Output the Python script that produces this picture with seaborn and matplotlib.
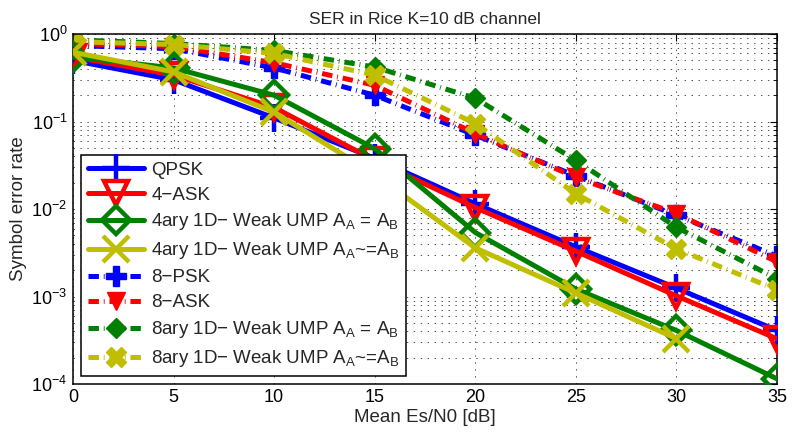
import matplotlib
matplotlib.use("Agg")
import matplotlib.pyplot as plt
import seaborn as sns
import numpy as np
import pandas as pd
from matplotlib.ticker import LogLocator, NullFormatter, FixedLocator

snr_db = [0, 5, 10, 15, 20, 25, 30, 35]

qpsk = [0.50, 0.30, 0.110, 0.038, 0.0115, 0.0037, 0.00125, 0.00041]
ask4 = [0.55, 0.34, 0.145, 0.036, 0.0104, 0.0033, 0.00102, 0.00033]
ump4_eq = [0.55, 0.41, 0.200, 0.049, 0.0054, 0.00122, 0.00041, 0.000115]
ump4_neq = [0.62, 0.37, 0.128, 0.025, 0.0036, 0.00110, 0.00033, None]

psk8 = [0.74, 0.68, 0.41, 0.20, 0.070, 0.024, 0.0085, 0.0029]
ask8 = [0.78, 0.72, 0.47, 0.26, 0.073, 0.023, 0.0089, 0.0025]
ump8_eq = [0.86, 0.78, 0.65, 0.42, 0.185, 0.036, 0.0062, 0.0016]
ump8_neq = [0.82, 0.76, 0.60, 0.34, 0.095, 0.015, 0.0035, 0.0012]

labels = ["QPSK", "4\u2212ASK",
          "4ary 1D\u2212 Weak UMP A$_A$ = A$_B$",
          "4ary 1D\u2212 Weak UMP A$_A$~=A$_B$",
          "8\u2212PSK", "8\u2212ASK",
          "8ary 1D\u2212 Weak UMP A$_A$ = A$_B$",
          "8ary 1D\u2212 Weak UMP A$_A$~=A$_B$"]
title = "SER in Rice K=10 dB channel"
xlabel = "Mean Es/N0 [dB]"
ylabel = "Symbol error rate"

sns.set_style("white")
plt.rcParams['font.family'] = ['Liberation Sans', 'DejaVu Sans']
plt.rcParams['mathtext.fontset'] = 'custom'
plt.rcParams['mathtext.rm'] = 'Liberation Sans'
plt.rcParams['mathtext.it'] = 'Liberation Sans'
plt.rcParams['lines.scale_dashes'] = False

fig = plt.figure(figsize=(7.92, 4.37), dpi=100)
ax = fig.add_axes([0.0922, 0.121, 0.8889, 0.801])

BLUE = (0, 0, 1)
RED = (1, 0, 0)
GREEN = (0, 0.5, 0)
YEL = (0.75, 0.75, 0)

series = [qpsk, ask4, ump4_eq, ump4_neq, psk8, ask8, ump8_eq, ump8_neq]
colors = [BLUE, RED, GREEN, YEL, BLUE, RED, GREEN, YEL]
markers = ['+', 'v', 'D', 'x', 'P', 'v', 'D', 'X']
solid_ms = [20, 17, 14, 19]
dash_ms = [14, 13, 10, 14]
dashdot = (0, (7.5, 3.5, 0.6, 3.5))

for i, (vals, col, mk, lab) in enumerate(zip(series, colors, markers, labels)):
    df = pd.DataFrame({"x": snr_db, "y": vals}).dropna()
    if i < 4:
        sns.lineplot(data=df, x="x", y="y", ax=ax, color=col, marker=mk,
                     linewidth=3.6, markersize=solid_ms[i], markeredgewidth=3.2,
                     markerfacecolor='none', markeredgecolor=col,
                     label=lab, zorder=3 + i)
    else:
        sns.lineplot(data=df, x="x", y="y", ax=ax, color=col, marker=mk,
                     linewidth=3.6, markersize=dash_ms[i - 4], markeredgewidth=1.0,
                     markerfacecolor=col, markeredgecolor=col,
                     linestyle=dashdot, label=lab, zorder=2)

ax.set_yscale('log')
ax.set_xlim(0, 35)
ax.set_ylim(1e-4, 1)
ax.xaxis.set_major_locator(FixedLocator(snr_db))
ax.yaxis.set_major_locator(LogLocator(base=10, numticks=10))
ax.yaxis.set_minor_locator(LogLocator(base=10, subs=np.arange(2, 10), numticks=20))
ax.yaxis.set_minor_formatter(NullFormatter())

ax.grid(True, which='major', axis='both', linestyle=(0, (1, 4)), color='0.3', linewidth=0.7)
ax.grid(True, which='minor', axis='y', linestyle=(0, (1, 4)), color='0.3', linewidth=0.7)

ax.tick_params(which='both', direction='in', top=True, right=True, colors='black',
               labelsize=13)
ax.tick_params(which='major', length=5, width=0.8)
ax.tick_params(which='minor', length=3, width=0.6)
ax.tick_params(axis='y', which='major', pad=4)
for s in ax.spines.values():
    s.set_color('black')
    s.set_linewidth(1.1)

ax.set_title(title, fontsize=12.5, pad=7)
ax.set_xlabel(xlabel, fontsize=13.5, labelpad=2)
ax.set_ylabel(ylabel, fontsize=13.5, labelpad=3)

leg = ax.legend(loc='lower left', fontsize=13.5, handlelength=3.0, handletextpad=0.37,
                labelspacing=0.42, borderpad=0.35, borderaxespad=0.45,
                fancybox=False, framealpha=1, edgecolor='black')
leg.get_frame().set_linewidth(1.1)
leg.set_zorder(20)

fig.savefig("out.png", dpi=100)
